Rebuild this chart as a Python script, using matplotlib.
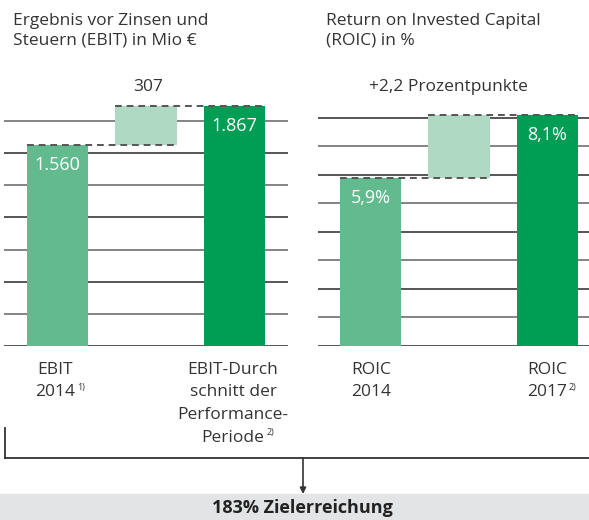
import matplotlib
matplotlib.use("Agg")
import matplotlib.pyplot as plt

plt.rcParams['font.family'] = ['Open Sans', 'DejaVu Sans']

# ---- data ----
ebit_labels = ["EBIT\n2014", "EBIT-Durch\nschnitt der\nPerformance-\nPeriode"]
ebit_values = [1560, 1867]
ebit_value_text = ["1.560", "1.867"]
ebit_delta_text = "307"
ebit_grid = [0, 250, 500, 750, 1000, 1250, 1500, 1750]

roic_labels = ["ROIC\n2014", "ROIC\n2017"]
roic_values = [5.9, 8.1]
roic_value_text = ["5,9%", "8,1%"]
roic_delta_text = "+2,2 Prozentpunkte"
roic_grid = [0, 1, 2, 3, 4, 5, 6, 7, 8]

title_left = "Ergebnis vor Zinsen und\nSteuern (EBIT) in Mio €"
title_right = "Return on Invested Capital\n(ROIC) in %"
result_text = "183% Zielerreichung"

# ---- style ----
W, H = 589, 520
C_LIGHT = "#62bb8e"
C_DARK = "#009d55"
C_FLOAT = "#b0d9c4"
C_TEXT = "#333333"
C_GRID = "#3a3a3a"
C_BOX = "#e3e4e5"
FS = 12.5

fig = plt.figure(figsize=(W / 100, H / 100), dpi=100)
renderer = fig.canvas.get_renderer()

def fx(x):
    return x / W

def fy(y):
    return 1 - y / H

def panel(left_px, width_px, xlim, ylim, grid, values, vtexts):
    ax = fig.add_axes([fx(left_px), fy(346), width_px / W, 240 / H])
    ax.set_xlim(*xlim)
    ax.set_ylim(*ylim)
    ax.axis('off')
    for i, g in enumerate(grid):
        ax.axhline(g, color=C_GRID if i % 2 == 0 else "#707070", lw=1.2, zorder=0)
    w = 0.69
    ax.bar([0], [values[0]], width=w, color=C_LIGHT, zorder=2)
    ax.bar([1], [values[1] - values[0]], bottom=[values[0]], width=w,
           color=C_FLOAT, zorder=2)
    ax.bar([2], [values[1]], width=w, color=C_DARK, zorder=2)
    ax.plot([0 - w / 2, 1 + w / 2], [values[0], values[0]], ls=(0, (3.5, 2.5)),
            color="#555555", lw=1.4, zorder=3, clip_on=False)
    ax.plot([1 - w / 2, 2 + w / 2], [values[1], values[1]], ls=(0, (3.5, 2.5)),
            color="#555555", lw=1.4, zorder=3, clip_on=False)
    for xi, v, t in zip([0, 2], values, vtexts):
        ax.annotate(t, (xi, v), xytext=(0, -20 * 0.72), textcoords='offset points',
                    ha='center', va='center', color='white', fontsize=13,
                    zorder=4)
    return ax

axl = panel(4, 284, (-0.605, 2.605), (0, 1867), ebit_grid, ebit_values,
            ebit_value_text)
axr = panel(318, 271, (-0.593, 2.469), (0, 8.42), roic_grid, roic_values,
            roic_value_text)

# delta labels
fig.text(fx(148), fy(87), ebit_delta_text, ha='center', va='center',
         fontsize=FS, color=C_TEXT)
fig.text(fx(448), fy(87), roic_delta_text, ha='center', va='center',
         fontsize=FS, color=C_TEXT)

# titles
fig.text(fx(13), fy(31), title_left, ha='left', va='center', fontsize=FS,
         color=C_TEXT, linespacing=1.3)
fig.text(fx(326), fy(31), title_right, ha='left', va='center', fontsize=FS,
         color=C_TEXT, linespacing=1.3)

# category labels
def cat_label(cx, top_y, text, sup=None):
    lines = text.split("\n")
    last = None
    for i, line in enumerate(lines):
        last = fig.text(fx(cx), fy(top_y + i * 22.5), line, ha='center',
                        va='center', fontsize=FS, color=C_TEXT)
    if sup:
        bb = last.get_window_extent(renderer=renderer)
        fig.text((bb.x1 + 2) / W, fy(top_y + (len(lines) - 1) * 22.5 - 5), sup,
                 ha='left', va='center', fontsize=6.5, color=C_TEXT)

cat_label(55, 370, ebit_labels[0], "1)")
cat_label(233, 370, ebit_labels[1], "2)")
cat_label(371, 370, roic_labels[0])
cat_label(547, 370, roic_labels[1], "2)")

# bracket + arrow
fig.add_artist(plt.Line2D([fx(5), fx(5)], [fy(428), fy(458)], color="#333333",
                          lw=1.3))
fig.add_artist(plt.Line2D([fx(5), fx(589)], [fy(458), fy(458)], color="#333333",
                          lw=1.3))
fig.add_artist(matplotlib.patches.FancyArrowPatch(
    (fx(303), fy(458)), (fx(303), fy(494)), transform=fig.transFigure,
    arrowstyle='-|>', mutation_scale=9, color="#333333", lw=1.2,
    shrinkA=0, shrinkB=0))

# result box
fig.add_artist(matplotlib.patches.Rectangle((0, 0), 1, fy(494), transform=fig.transFigure,
                                            color=C_BOX, zorder=0))
fig.text(fx(302), fy(508), result_text, ha='center', va='center', fontsize=13,
         fontweight='bold', color="#222222")

fig.savefig("out.png", dpi=100)
